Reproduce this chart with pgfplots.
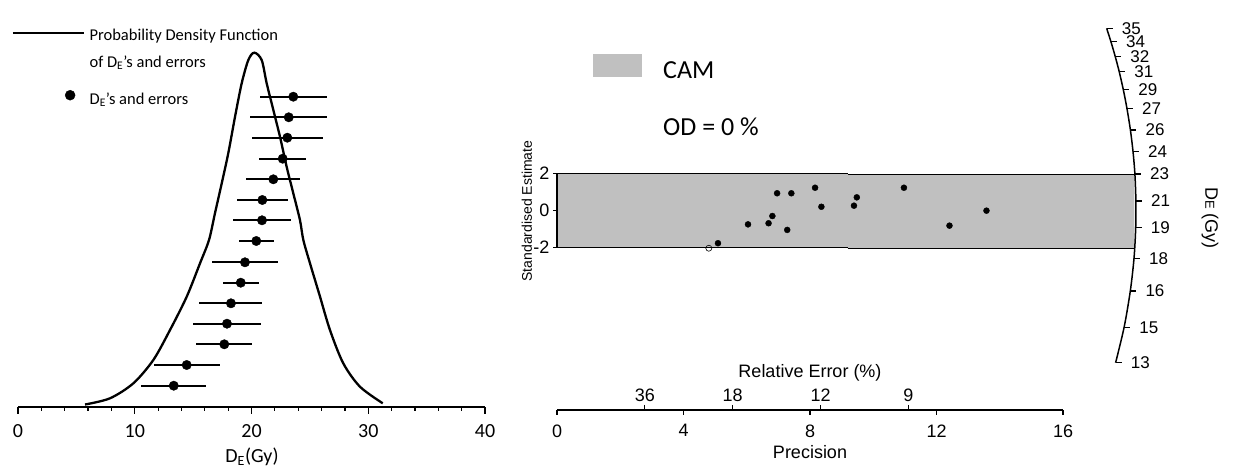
\documentclass[border=0pt]{standalone}
\usepackage{fontspec}
\setmainfont{Carlito}
\newfontfamily\arial{Liberation Sans}
\usepackage{pgfplots}
\usepackage{pgfplotstable}
\pgfplotsset{compat=1.18}
\definecolor{bandgray}{HTML}{C0C0C0}

% probability density curve (x = De in Gy, y = height)
\pgfplotstableread{
x y
5.74 2.5
7.88 8.7
9.88 23.7
11.59 47
13.02 77
14.45 110.3
15.59 143.7
16.36 167
16.87 193.7
17.45 223.7
18.01 253.7
18.59 290.3
19.16 323.7
19.73 347
20.24 354.3
20.87 347
21.30 323.7
21.87 297
22.44 270.3
23.01 240.3
23.58 213.7
24.15 187
24.44 167
25.01 143.7
25.87 110.3
26.72 77
27.86 43.7
29.29 20.3
31.24 3.7
}\pdfcurve

% individual De values with errors
\pgfplotstableread{
x y err
23.58 310.3 2.86
23.19 289.7 3.31
23.07 269.3 3.06
22.67 248.3 2.03
21.87 227.7 2.30
20.93 207.0 2.21
20.90 186.7 2.48
20.41 166.0 1.49
19.44 144.7 2.85
19.08 124.3 1.53
18.24 103.7 2.70
17.90 83.3 2.94
17.67 62.7 2.40
14.45 42.0 2.82
13.34 21.3 2.78
}\dedata

% radial plot: precision, standardised estimate
\pgfplotstableread{
x y
5.09 -1.78
6.04 -0.76
6.69 -0.70
6.81 -0.31
6.96 0.92
7.28 -1.06
7.41 0.92
8.16 1.22
8.36 0.19
9.39 0.25
9.48 0.70
10.97 1.22
12.41 -0.83
13.58 -0.02
}\radial

% De scale on the arc
\pgfplotstableread{
x y lab
17.380 9.838 35
17.515 9.114 34
17.653 8.303 32
17.777 7.492 31
17.904 6.541 29
18.021 5.514 27
18.131 4.341 26
18.214 3.168 24
18.273 1.962 23
18.305 0.503 21
18.299 -0.941 19
18.245 -2.595 18
18.128 -4.362 16
17.932 -6.324 15
17.663 -8.238 13
}\arcticks

\begin{document}
\begin{tikzpicture}
\path[use as bounding box] (0pt,0pt) rectangle (1241pt,476pt);

% ---------------- left panel ----------------
\begin{axis}[
  at={(18pt,69pt)}, anchor=south west,
  scale only axis, width=467pt, height=407pt,
  xmin=0, xmax=40, ymin=0, ymax=407,
  clip=false,
  axis x line*=bottom, axis y line=none,
  x axis line style={line width=1.5pt},
  xtick={0,10,20,30,40}, minor x tick num=4,
  xtick pos=left, tick align=outside,
  major tick length=7pt, minor tick length=4pt,
  xtick style={line width=1.2pt, black},
  minor x tick style={line width=1.2pt, black},
  /pgf/number format/assume math mode=true,
  xticklabel style={font=\fontsize{20}{24}\selectfont, yshift=-7pt},
  xlabel={D\textsubscript{E}(Gy)},
  xlabel style={font=\fontsize{20}{24}\selectfont, at={(axis description cs:0.501,0)}, anchor=center, yshift=-50pt},
  legend style={at={(-0.01349,0.9361)}, anchor=north west, draw=none, fill=none,
    inner sep=0pt, outer sep=0pt, row sep=0pt, column sep=4pt,
    font=\fontsize{16.5}{20}\selectfont, cells={anchor=base west},
    nodes={inner sep=0pt, text depth={}}},
]
\addplot[black, line width=2.3pt, smooth, tension=0.5,
  legend image code/.code={\draw[black, line width=2.3pt] (0pt,7.3pt) -- (71.6pt,7.3pt);}]
  table[x=x, y=y] {\pdfcurve};
\addlegendentry{\rule[-13.3pt]{0pt}{27.3pt}Probability Density Function}
\addlegendimage{empty legend}
\addlegendentry{\rule[-22.7pt]{0pt}{36.7pt}of D\textsubscript{E}’s and errors}
\addplot[black, only marks, mark=*, mark size=4.7pt,
  legend image code/.code={\fill[black] (57.3pt,9pt) circle[radius=5pt];},
  error bars/.cd, x dir=both, x explicit, error mark=none,
  error bar style={line width=2.3pt, black}]
  table[x=x, y=y, x error=err] {\dedata};
\addlegendentry{\rule[-5pt]{0pt}{19pt}D\textsubscript{E}’s and errors}
\end{axis}

% ---------------- radial plot ----------------
\begin{axis}[
  at={(557pt,62.2pt)}, anchor=south west,
  scale only axis, width=600.875pt, height=407pt,
  xmin=0, xmax=19, ymin=-11, ymax=11,
  clip=false,
  axis x line=none, axis y line*=left,
  y axis line style={draw=none},
  ytick={-2,0,2}, ytick pos=left, tick align=outside,
  major tick length=4pt,
  ytick style={line width=1.2pt, black},
  /pgf/number format/assume math mode=true,
  yticklabel style={font=\arial\fontsize{18}{22}\selectfont},
  ylabel={Standardised Estimate},
  ylabel style={font=\arial\fontsize{14}{17}\selectfont, at={(axis description cs:-0.05,0.498)}, anchor=center},
  legend style={at={(axis cs:1.148,8.432)}, anchor=north west, draw=none, fill=none,
    inner sep=0pt, outer sep=0pt, row sep=0pt, column sep=21.5pt,
    font=\fontsize{26}{30}\selectfont, cells={anchor=base west},
    nodes={inner sep=0pt, text depth={}}},
]
\addplot[fill=bandgray, draw=none,
  legend image code/.code={\fill[bandgray] (0pt,1.6pt) rectangle (48.4pt,24pt);}]
  coordinates {(0,-2) (9.19,-2) (9.19,-2.054) (18.26,-2.054) (18.26,1.946) (9.19,1.946) (9.19,2) (0,2)} -- cycle;
\addlegendentry{\rule[-32.7pt]{0pt}{56.7pt}CAM}
\addlegendimage{empty legend}
\addlegendentry{\rule[-8pt]{0pt}{32pt}OD = 0 \%}
\addplot[black, line width=1pt, forget plot] coordinates {(0,2) (9.19,2)};
\addplot[black, line width=1pt, forget plot] coordinates {(9.19,1.946) (18.26,1.946)};
\addplot[black, line width=1pt, forget plot] coordinates {(0,-2) (9.19,-2)};
\addplot[black, line width=1pt, forget plot] coordinates {(9.19,-2.054) (18.26,-2.054)};
\addplot[black, line width=2pt, forget plot] coordinates {(0,-2) (0,2)};
% De arc scale
\addplot[black, line width=1.5pt, smooth, forget plot] table[x=x, y=y] {\arcticks};
\addplot[black, line width=1.2pt, mark=none, forget plot, quiver={u=0.19, v=0}] table[x=x, y=y] {\arcticks};
\addplot[draw=none, mark=none, forget plot, nodes near coords, point meta=explicit symbolic,
  nodes near coords style={anchor=west, xshift=15pt, inner sep=0pt, font=\arial\fontsize{17}{20}\selectfont}]
  table[x=x, y=y, meta=lab] {\arcticks};
% data
\addplot[black, only marks, mark=*, mark size=3pt, forget plot] table[x=x, y=y] {\radial};
\addplot[black, only marks, mark=o, mark size=3pt, line width=0.6pt, fill=white,
  mark options={fill=white}, forget plot] coordinates {(4.80,-2.05)};
\node[rotate=-90, font=\arial\fontsize{18}{22}\selectfont] at (axis cs:20.65,-0.42)
  {D{\fontsize{13}{15}\selectfont E} (Gy)};
\end{axis}

% ---------------- precision axis ----------------
\begin{axis}[
  at={(557pt,66pt)}, anchor=south west,
  scale only axis, width=506pt, height=10pt,
  xmin=0, xmax=16, ymin=0, ymax=1,
  axis x line*=bottom, axis y line=none,
  x axis line style={line width=1.5pt},
  xtick={0,4,8,12,16}, xtick pos=left, tick align=outside,
  major tick length=5pt,
  xtick style={line width=1.2pt, black},
  /pgf/number format/assume math mode=true,
  xticklabel style={font=\arial\fontsize{18}{22}\selectfont, yshift=-6pt},
  xlabel={Precision},
  xlabel style={font=\arial\fontsize{18}{22}\selectfont, at={(axis description cs:0.5,0)}, anchor=center, yshift=-42pt},
]
\addplot[draw=none] coordinates {(0,0)};
\end{axis}

% ---------------- relative error axis ----------------
\begin{axis}[
  at={(557pt,66pt)}, anchor=north west,
  scale only axis, width=506pt, height=10pt,
  xmin=0, xmax=16, ymin=0, ymax=1,
  axis x line*=top, axis y line=none,
  x axis line style={line width=1.5pt},
  xtick={2.7778,5.5556,8.3333,11.1111}, xticklabels={36,18,12,9},
  xtick pos=right, xticklabel pos=right, tick align=outside,
  major tick length=5pt,
  xtick style={line width=1.2pt, black},
  xticklabel style={font=\arial\fontsize{18}{22}\selectfont},
  xlabel={Relative Error (\%)},
  xlabel style={font=\arial\fontsize{18}{22}\selectfont, at={(axis description cs:0.5,1)}, anchor=center, yshift=37pt},
]
\addplot[draw=none] coordinates {(0,1)};
\end{axis}
\end{tikzpicture}
\end{document}
